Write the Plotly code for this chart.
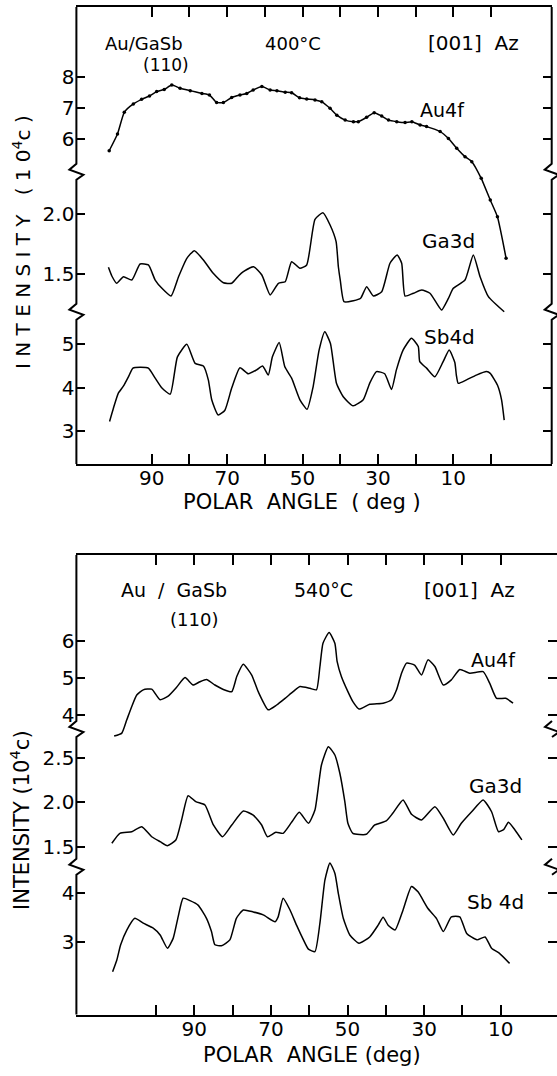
import plotly.graph_objects as go

W, H = 557, 1076

# ---------------- Panel 1 : 400 C ----------------
p1_au4f_angle = [101.3, 99.1, 97.3, 94.9, 92.7, 90.6, 88.7, 86.7, 84.7, 82.5, 79.8, 76.7, 74.7, 72.8,
                 71.0, 68.8, 66.6, 64.8, 63.1, 60.8, 58.6, 56.8, 54.6, 52.9, 50.8, 48.9, 46.7, 44.9,
                 42.7, 40.9, 38.7, 36.5, 35.2, 33.0, 31.0, 29.0, 27.2, 25.0, 22.8, 21.0, 18.8, 17.1,
                 13.5, 11.3, 9.1, 6.9, 5.1, 2.6, 0.2, -1.7, -4.0]
p1_au4f_val = [5.63, 6.17, 6.87, 7.14, 7.29, 7.40, 7.54, 7.61, 7.75, 7.65, 7.57, 7.48, 7.43, 7.19,
               7.19, 7.35, 7.43, 7.48, 7.59, 7.70, 7.59, 7.57, 7.52, 7.50, 7.34, 7.30, 7.27, 7.21,
               7.00, 6.78, 6.62, 6.57, 6.57, 6.71, 6.86, 6.75, 6.62, 6.57, 6.54, 6.57, 6.46, 6.41,
               6.25, 6.03, 5.71, 5.44, 5.28, 4.74, 4.04, 3.50, 2.16]

p1_ga3d_angle = [101.5, 100.6, 99.3, 97.5, 95.3, 93.1, 90.9, 89.1, 87.3, 84.9, 82.9, 80.7, 78.7, 76.3,
                 73.7, 71.0, 68.8, 67.0, 65.7, 63.0, 60.8, 58.6, 56.4, 54.6, 52.9, 50.7, 48.9, 46.7,
                 44.6, 42.7, 41.1, 40.5, 40.0, 39.0, 36.5, 34.6, 33.0, 31.2, 29.0, 26.8, 24.9, 23.7,
                 22.8, 20.6, 18.4, 16.2, 14.4, 13.1, 11.3, 10.0, 6.9, 4.7, 2.9, 0.7, -3.5]
p1_ga3d_val = [1.558, 1.486, 1.425, 1.480, 1.452, 1.586, 1.578, 1.452, 1.383, 1.319, 1.480, 1.633, 1.697, 1.619,
               1.508, 1.430, 1.425, 1.486, 1.522, 1.563, 1.494, 1.328, 1.425, 1.438, 1.605, 1.550, 1.578, 1.958,
               2.013, 1.911, 1.772, 1.563, 1.452, 1.272, 1.280, 1.300, 1.397, 1.319, 1.355, 1.592, 1.661, 1.592,
               1.319, 1.342, 1.369, 1.342, 1.258, 1.203, 1.300, 1.383, 1.452, 1.661, 1.480, 1.314, 1.188]

p1_sb4d_angle = [101.2, 100.2, 98.9, 97.5, 96.2, 95.0, 93.1, 90.9, 89.1, 87.3, 85.1, 83.2, 80.7, 78.5,
                 76.3, 75.0, 74.1, 72.4, 70.6, 68.8, 66.6, 64.4, 62.2, 60.6, 59.1, 58.0, 56.2, 54.7,
                 52.9, 50.7, 48.8, 47.2, 45.6, 44.1, 42.6, 41.0, 39.2, 36.6, 33.9, 32.2, 30.4, 28.2,
                 26.4, 25.1, 23.3, 21.1, 19.3, 18.9, 17.1, 14.9, 12.7, 11.1, 9.6, 9.2, 8.7, 6.5,
                 3.9, 1.2, 0.2, -1.7, -2.8, -3.5]
p1_sb4d_val = [3.22, 3.52, 3.87, 4.04, 4.25, 4.45, 4.47, 4.45, 4.22, 3.99, 3.85, 4.71, 5.00, 4.56,
               4.50, 4.18, 3.72, 3.37, 3.48, 3.99, 4.46, 4.32, 4.41, 4.50, 4.29, 4.71, 5.04, 4.48,
               4.22, 3.72, 3.50, 4.02, 4.87, 5.29, 5.02, 4.10, 3.79, 3.58, 3.72, 4.10, 4.37, 4.32,
               3.96, 4.41, 4.87, 5.14, 4.95, 4.60, 4.45, 4.25, 4.60, 4.87, 4.58, 4.29, 4.10, 4.18,
               4.29, 4.37, 4.33, 4.06, 3.72, 3.25]

# ---------------- Panel 2 : 540 C ----------------
p2_au4f_angle = [110.9, 108.9, 107.6, 106.3, 105.0, 103.3, 101.1, 98.9, 96.8, 94.6, 92.4, 90.3, 88.5, 86.8,
                 84.6, 82.4, 80.2, 78.9, 77.2, 75.0, 73.3, 70.7, 68.5, 66.3, 64.2, 62.4, 59.8, 58.1,
                 57.2, 56.4, 54.8, 53.3, 52.7, 51.6, 49.9, 48.6, 47.0, 44.2, 40.7, 38.5, 37.2, 35.9,
                 34.6, 32.5, 30.7, 29.0, 27.2, 25.0, 22.9, 20.7, 18.1, 14.6, 12.9, 11.1, 8.7, 6.8]
p2_au4f_val = [3.43, 3.51, 3.87, 4.23, 4.54, 4.68, 4.70, 4.41, 4.51, 4.75, 5.01, 4.81, 4.90, 4.96,
               4.81, 4.69, 4.63, 5.04, 5.37, 5.08, 4.63, 4.14, 4.27, 4.45, 4.63, 4.77, 4.72, 4.68,
               5.31, 5.94, 6.23, 5.94, 5.44, 5.04, 4.63, 4.36, 4.16, 4.29, 4.32, 4.41, 4.68, 5.13,
               5.40, 5.35, 5.08, 5.49, 5.31, 4.81, 4.95, 5.23, 5.13, 5.17, 4.86, 4.45, 4.45, 4.32]

p2_ga3d_angle = [111.5, 109.4, 106.3, 103.7, 101.1, 98.9, 97.0, 94.8, 93.3, 91.6, 89.6, 87.2, 85.0, 82.6,
                 80.2, 77.2, 74.6, 72.4, 70.9, 68.7, 66.8, 64.6, 62.6, 60.2, 58.5, 56.8, 55.0, 53.3,
                 52.0, 50.7, 49.9, 48.6, 45.1, 42.9, 39.9, 38.2, 35.5, 33.3, 30.7, 27.2, 25.0, 22.4,
                 20.3, 17.6, 14.6, 12.4, 10.6, 9.2, 8.0, 6.3, 4.5]
p2_ga3d_val = [1.545, 1.656, 1.674, 1.730, 1.618, 1.563, 1.518, 1.581, 1.805, 2.076, 2.009, 1.972, 1.749, 1.618,
               1.749, 1.905, 1.860, 1.749, 1.618, 1.667, 1.656, 1.779, 1.891, 1.768, 1.916, 2.419, 2.623, 2.530,
               2.326, 2.009, 1.768, 1.656, 1.645, 1.749, 1.794, 1.879, 2.028, 1.868, 1.805, 1.953, 1.824, 1.637,
               1.768, 1.897, 2.028, 1.897, 1.674, 1.700, 1.780, 1.693, 1.582]

p2_sb4d_angle = [111.3, 110.2, 109.2, 107.6, 105.5, 103.3, 100.7, 98.9, 97.0, 95.5, 94.2, 92.9, 91.1, 89.0,
                 86.8, 85.5, 84.6, 82.9, 80.7, 79.0, 77.2, 74.6, 72.0, 68.9, 68.1, 66.8, 65.0, 63.3,
                 61.5, 60.2, 58.5, 57.2, 55.9, 54.6, 53.3, 52.4, 51.1, 49.4, 47.0, 44.2, 42.0, 40.7,
                 39.4, 37.6, 35.5, 33.3, 31.6, 29.0, 26.8, 25.0, 22.9, 20.7, 18.9, 16.2, 14.1, 12.4,
                 10.4, 7.7]
p2_sb4d_val = [2.40, 2.64, 2.95, 3.25, 3.49, 3.39, 3.29, 3.15, 2.88, 3.08, 3.52, 3.90, 3.85, 3.76,
               3.49, 3.22, 2.95, 2.93, 3.05, 3.49, 3.66, 3.62, 3.56, 3.42, 3.52, 3.90, 3.66, 3.35,
               3.05, 2.86, 2.81, 3.39, 4.27, 4.62, 4.41, 4.00, 3.49, 3.15, 2.98, 3.11, 3.35, 3.51,
               3.35, 3.25, 3.66, 4.14, 4.03, 3.69, 3.49, 3.22, 3.52, 3.52, 3.18, 3.05, 3.11, 2.88,
               2.78, 2.57]

# tick definitions
p1_x_ticks = [90, 80, 70, 60, 50, 40, 30, 20, 10, 0]
p1_x_labels = ["90", " ", "70", " ", "50", " ", "30", " ", "10", " "]
p2_x_ticks = [100, 90, 80, 70, 60, 50, 40, 30, 20, 10]
p2_x_labels = [" ", "90", " ", "70", " ", "50", " ", "30", " ", "10"]
p1_au_ticks, p1_ga_ticks, p1_sb_ticks = [6, 7, 8], [1.5, 2.0], [3, 4, 5]
p2_au_ticks, p2_ga_ticks, p2_sb_ticks = [4, 5, 6], [1.5, 2.0, 2.5], [3, 4]

FONT = "DejaVu Sans"


def fx(px):
    return px / W


def fy(py):
    return 1 - py / H


fig = go.Figure()


def add(x, y, xa, ya, markers=False):
    fig.add_trace(go.Scatter(
        x=x, y=y, xaxis=xa, yaxis=ya,
        mode="lines+markers" if markers else "lines",
        line=dict(color="black", width=1.5, shape="spline", smoothing=0.5),
        marker=dict(size=3.5, color="black"),
        showlegend=False, hoverinfo="skip"))


add(p1_sb4d_angle, p1_sb4d_val, "x", "y")
add(p1_ga3d_angle, p1_ga3d_val, "x", "y2")
add(p1_au4f_angle, p1_au4f_val, "x", "y3", markers=True)
add(p2_sb4d_angle, p2_sb4d_val, "x2", "y4")
add(p2_ga3d_angle, p2_ga3d_val, "x2", "y5")
add(p2_au4f_angle, p2_au4f_val, "x2", "y6")

# geometry (pixels)
P1_L, P1_R, P1_T, P1_B = 76.4, 551.7, 7.0, 464.0
P2_L, P2_R, P2_T, P2_B = 76.4, 557.0, 555.0, 1014.5

xcommon = dict(ticks="inside", ticklen=10, tickwidth=2, tickcolor="black", showline=True,
               linewidth=2, linecolor="black", mirror="ticks", showgrid=False, zeroline=False,
               automargin=False, ticklabelstandoff=-5,
               tickfont=dict(family=FONT, size=20, color="black"))
ycommon = dict(ticks="inside", ticklen=9, tickwidth=2, tickcolor="black", showline=False,
               mirror="ticks", showgrid=False, zeroline=False, side="left",
               automargin=False, ticklabelstandoff=1,
               tickfont=dict(family=FONT, size=20, color="black"))

fig.update_layout(
    template="none",
    width=W, height=H, margin=dict(l=0, r=0, t=0, b=0, pad=0, autoexpand=False),
    paper_bgcolor="white", plot_bgcolor="rgba(0,0,0,0)",
    xaxis=dict(domain=[fx(P1_L), fx(P1_R)], range=[110.0, -16.1], anchor="y",
               tickvals=p1_x_ticks, ticktext=p1_x_labels, **xcommon),
    yaxis=dict(domain=[fy(P1_B), fy(P1_T)], range=[2.2388, 12.781], anchor="x",
               tickvals=p1_sb_ticks, ticktext=[str(v) for v in p1_sb_ticks], **ycommon),
    yaxis2=dict(overlaying="y", anchor="x", range=[-0.0808, 3.7275],
                tickvals=p1_ga_ticks, ticktext=["1.5", "2.0"], **ycommon),
    yaxis3=dict(overlaying="y", anchor="x", range=[-4.474, 10.268],
                tickvals=p1_au_ticks, ticktext=[str(v) for v in p1_au_ticks], **ycommon),
    xaxis2=dict(domain=[fx(P2_L), fx(P2_R)], range=[120.75, -4.67], anchor="y4",
                tickvals=p2_x_ticks, ticktext=p2_x_labels, **xcommon),
    yaxis4=dict(domain=[fy(P2_B), fy(P2_T)], range=[1.527, 10.904], anchor="x2",
                tickvals=p2_sb_ticks, ticktext=[str(v) for v in p2_sb_ticks], **ycommon),
    yaxis5=dict(overlaying="y4", anchor="x2", range=[-0.366, 4.762],
                tickvals=p2_ga_ticks, ticktext=["1.5", "2.0", "2.5"], **ycommon),
    yaxis6=dict(overlaying="y4", anchor="x2", range=[-4.095, 8.324],
                tickvals=p2_au_ticks, ticktext=[str(v) for v in p2_au_ticks], **ycommon),
)


def broken_line(x, top, bot, breaks):
    pts = [(x, top)]
    for b in breaks:
        pts += [(x, b - 8), (x - 7, b - 2), (x + 7, b + 3), (x, b + 8)]
    pts.append((x, bot))
    return "M " + " L ".join(f"{fx(a):.5f},{fy(c):.5f}" for a, c in pts)


def squiggle(x, b):
    pts = [(x, b - 8), (x - 7, b - 2), (x + 7, b + 3), (x, b + 8)]
    return "M " + " L ".join(f"{fx(a):.5f},{fy(c):.5f}" for a, c in pts)


shapes = []
for path in [broken_line(P1_L, P1_T, P1_B, [171.7, 311.7]),
             broken_line(P1_R, P1_T, P1_B, [171.7, 311.7]),
             broken_line(P2_L, P2_T, P2_B, [729.0, 866.7]),
             squiggle(552, 729.0), squiggle(552, 866.7)]:
    shapes.append(dict(type="path", path=path, xref="paper", yref="paper",
                       line=dict(color="black", width=2)))
fig.update_layout(shapes=shapes)


def txt(s, x, y, size=20, angle=0):
    fig.add_annotation(text=s, x=fx(x), y=fy(y), xref="paper", yref="paper",
                       showarrow=False, xanchor="center", yanchor="middle", textangle=angle,
                       font=dict(family=FONT, size=size, color="black"))


# panel 1 texts
txt("Au/GaSb", 143.5, 43, size=18)
txt("(110)", 166, 65, size=17)
txt("400°C", 293, 43, size=18)
txt("[001]  Az", 473, 43, size=20)
txt("Au4f", 442, 110, size=19)
txt("Ga3d", 448, 241, size=20)
txt("Sb4d", 449, 337, size=20)
txt("I N T E N S I T Y   ( 1 0<sup>4</sup>c )", 22, 242, size=20, angle=-90)
txt("POLAR  ANGLE  ( deg )", 302, 502, size=21)

# panel 2 texts
txt("Au  /  GaSb", 174, 590, size=19)
txt("(110)", 193.5, 619, size=18)
txt("540°C", 323, 590, size=19)
txt("[001]  Az", 469, 590, size=20)
txt("Au4f", 493, 660, size=19)
txt("Ga3d", 495, 786, size=20)
txt("Sb 4d", 495, 902, size=20)
txt("INTENSITY (10<sup>4</sup>c)", 20, 820, size=21, angle=-90)
txt("POLAR  ANGLE (deg)", 312, 1055, size=21)

fig.write_html("out.html", config={"displayModeBar": False},
               post_script="document.body.style.margin='0';")
